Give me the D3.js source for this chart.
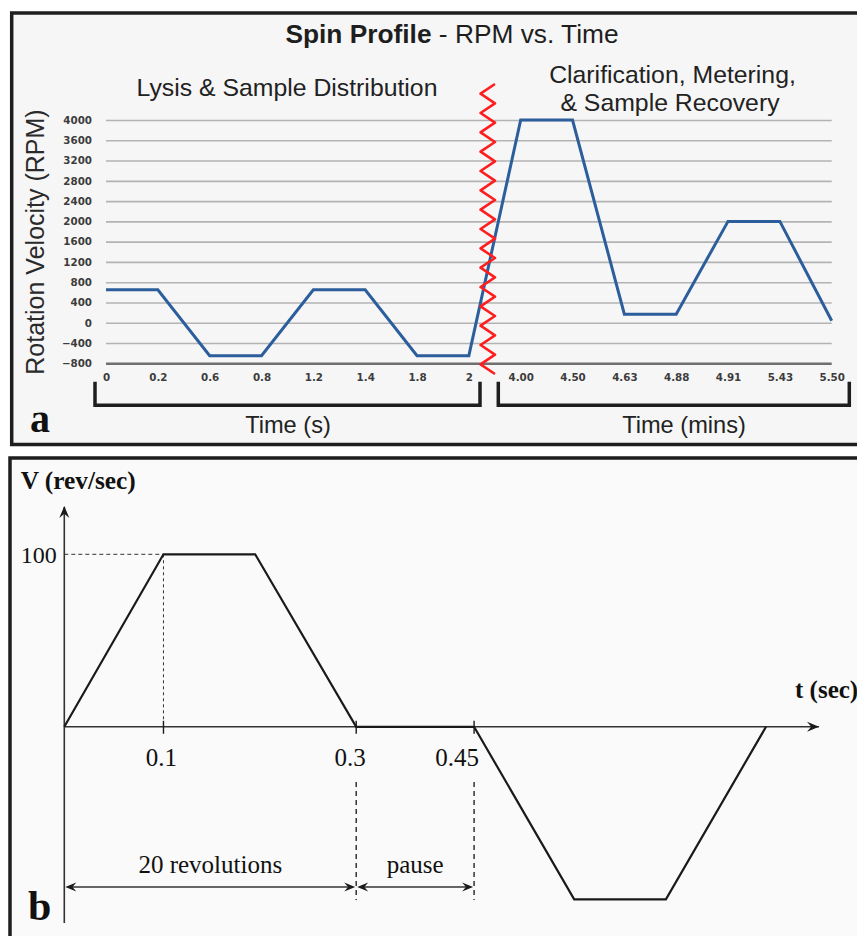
<!DOCTYPE html>
<html><head><meta charset="utf-8">
<script src="https://cdn.jsdelivr.net/npm/d3@7"></script>
<style>body{margin:0;background:#fff}</style>
</head><body>
<svg id="c" width="857" height="936" xmlns="http://www.w3.org/2000/svg"></svg>
<script>
// ---------- Panel a data ----------
const timeLabels = ["0","0.2","0.6","0.8","1.2","1.4","1.8","2","4.00","4.50","4.63","4.88","4.91","5.43","5.50"];
const rpmValues  = [650,650,-650,-650,650,650,-650,-650,4000,4000,170,170,2000,2000,40];
const rpmTicks   = [-800,-400,0,400,800,1200,1600,2000,2400,2800,3200,3600,4000];
const breakAfterIndex = 7; // zigzag between "2" and "4.00"

// ---------- Panel b data ----------
const profileT = [0, 0.106, 0.204, 0.312, 0.438, 0.545, 0.643, 0.75];
const profileV = [0, 100, 100, 0, 0, -100, -100, 0];
const vTickValue = 100;
const tTickKnots  = [1, 3, 4];
const tTickLabels = ["0.1", "0.3", "0.45"];
const spanLabels  = ["20 revolutions", "pause"];

const svg = d3.select("#c");
const SANS = "'Liberation Sans', Arial, Helvetica, sans-serif";
const SERIF = "'Liberation Serif', 'Times New Roman', serif";

// ================= PANEL A =================
svg.append("rect").attr("x", 11.7).attr("y", 13).attr("width", 880).attr("height", 431.5)
  .attr("fill", "#f6f6f6").attr("stroke", "#1e1e1e").attr("stroke-width", 3.5);

const xA = d3.scalePoint().domain(timeLabels).range([106, 831.7]);
const yA = d3.scaleLinear().domain([-800, 4000]).range([363.3, 120]);

const gA = svg.append("g");
const yAxis = d3.axisLeft(yA).tickValues(rpmTicks).tickFormat(d3.format("d"))
  .tickSize(-(831.7 - 106)).tickPadding(14);
const yg = gA.append("g").attr("transform", "translate(106,0)").call(yAxis);
yg.select(".domain").remove();
yg.selectAll(".tick line").attr("stroke", d => d === -800 ? "#6f6f6f" : "#b3b3b3")
  .attr("stroke-width", d => d === -800 ? 2.4 : 1.6);
yg.selectAll(".tick text").attr("font-family", "'DejaVu Sans', sans-serif").attr("font-weight", "bold")
  .attr("font-size", 10.3).attr("fill", "#3c3c3c");

const xAxis = d3.axisBottom(xA).tickSize(0).tickPadding(10.4);
const xg = gA.append("g").attr("transform", "translate(0,363.3)").call(xAxis);
xg.select(".domain").remove();
xg.selectAll(".tick text").attr("font-family", "'DejaVu Sans', sans-serif").attr("font-weight", "bold")
  .attr("font-size", 10.3).attr("fill", "#3c3c3c");

const lineA = d3.line().x((d, i) => xA(timeLabels[i])).y(d => yA(d));
gA.append("path").datum(rpmValues).attr("d", lineA).attr("fill", "none")
  .attr("stroke", "#2c5e9c").attr("stroke-width", 3).attr("stroke-linejoin", "miter");

// red zigzag break
{
  const xMid = (xA(timeLabels[breakAfterIndex]) + xA(timeLabels[breakAfterIndex + 1])) / 2;
  const top = 84, bot = 374, n = 30, amp = 7.2;
  const pts = d3.range(n + 1).map(k => [xMid - 7 + (k % 2 === 0 ? amp : -amp), top + (bot - top) * k / n]);
  svg.append("path").attr("d", d3.line()(pts)).attr("fill", "none")
    .attr("stroke", "#ff1e1e").attr("stroke-width", 2.6).attr("stroke-linejoin", "round");
}

// titles
const title = svg.append("text").attr("x", 452).attr("y", 43).attr("text-anchor", "middle")
  .attr("font-family", SANS).attr("font-size", 26.3).attr("fill", "#1e1e1e");
title.append("tspan").attr("font-weight", "bold").text("Spin Profile");
title.append("tspan").text(" - RPM vs. Time");

svg.append("text").attr("x", 287).attr("y", 96).attr("text-anchor", "middle")
  .attr("font-family", SANS).attr("font-size", 24.8).attr("fill", "#222").text("Lysis & Sample Distribution");
svg.append("text").attr("x", 672.5).attr("y", 83).attr("text-anchor", "middle")
  .attr("font-family", SANS).attr("font-size", 24.8).attr("fill", "#222").text("Clarification, Metering,");
svg.append("text").attr("x", 670).attr("y", 111).attr("text-anchor", "middle")
  .attr("font-family", SANS).attr("font-size", 24.8).attr("fill", "#222").text("& Sample Recovery");

svg.append("text").attr("transform", "translate(43.5,242) rotate(-90)").attr("text-anchor", "middle")
  .attr("font-family", SANS).attr("font-size", 25).attr("fill", "#2a2a2a").text("Rotation Velocity (RPM)");

// brackets
function bracket(x0, x1) {
  svg.append("path").attr("d", `M${x0},381.7 V405.3 H${x1} V381.7`).attr("fill", "none")
    .attr("stroke", "#1e1e1e").attr("stroke-width", 3.5).attr("stroke-linejoin", "miter");
}
bracket(95, 480);
bracket(498.3, 849.3);
svg.append("text").attr("x", 288).attr("y", 432.7).attr("text-anchor", "middle")
  .attr("font-family", SANS).attr("font-size", 23.6).attr("fill", "#222").text("Time (s)");
svg.append("text").attr("x", 684).attr("y", 432.7).attr("text-anchor", "middle")
  .attr("font-family", SANS).attr("font-size", 23.6).attr("fill", "#222").text("Time (mins)");

svg.append("text").attr("x", 30).attr("y", 431.7).attr("font-family", SERIF).attr("font-weight", "bold")
  .attr("font-size", 40).attr("fill", "#111").text("a");

// ================= PANEL B =================
svg.append("rect").attr("x", 10).attr("y", 458).attr("width", 880).attr("height", 520)
  .attr("fill", "#fafafa").attr("stroke", "#1e1e1e").attr("stroke-width", 3.5);

const xB = d3.scaleLinear().domain([0, 0.75]).range([64.3, 766]);
const yB = d3.scaleLinear().domain([-100, 100]).range([899.3, 554.3]);
const gB = svg.append("g");
const ink = "#1a1a1a";

function arrowHead(x, y, angleDeg, len = 12, half = 5) {
  gB.append("path").attr("d", `M0,0 L${-len},${-half} L${-len * 0.65},0 L${-len},${half} Z`)
    .attr("transform", `translate(${x},${y}) rotate(${angleDeg})`).attr("fill", ink);
}

// axes
gB.append("line").attr("x1", xB(0)).attr("x2", 819).attr("y1", yB(0)).attr("y2", yB(0))
  .attr("stroke", "#333").attr("stroke-width", 1.6);
arrowHead(819, yB(0), 0);
gB.append("line").attr("x1", xB(0)).attr("x2", xB(0)).attr("y1", 923).attr("y2", 507)
  .attr("stroke", "#333").attr("stroke-width", 1.6);
arrowHead(xB(0), 506, -90);

svg.append("text").attr("x", 20.7).attr("y", 489).attr("font-family", SERIF).attr("font-weight", "bold")
  .attr("font-size", 25.3).attr("fill", "#111").text("V (rev/sec)");
svg.append("text").attr("x", 795).attr("y", 698).attr("font-family", SERIF).attr("font-weight", "bold")
  .attr("font-size", 25).attr("fill", "#111").text("t (sec)");

// 100 level
gB.append("line").attr("x1", xB(0)).attr("x2", xB(profileT[1])).attr("y1", yB(vTickValue)).attr("y2", yB(vTickValue))
  .attr("stroke", "#333").attr("stroke-width", 1).attr("stroke-dasharray", "4,3");
gB.append("line").attr("x1", xB(profileT[1])).attr("x2", xB(profileT[1])).attr("y1", yB(vTickValue)).attr("y2", yB(0))
  .attr("stroke", "#333").attr("stroke-width", 1).attr("stroke-dasharray", "3,3");
svg.append("text").attr("x", 56.7).attr("y", 563).attr("text-anchor", "end").attr("font-family", SERIF)
  .attr("font-size", 24).attr("fill", "#111").text(String(vTickValue));

// profile
gB.append("path").datum(profileV).attr("d", d3.line().x((d, i) => xB(profileT[i])).y(d => yB(d)))
  .attr("fill", "none").attr("stroke", ink).attr("stroke-width", 2.2).attr("stroke-linejoin", "miter");

// ticks + labels
const labelNudge = [-2, -6, -17];
tTickKnots.forEach((k, j) => {
  const x = xB(profileT[k]);
  gB.append("line").attr("x1", x).attr("x2", x).attr("y1", yB(0) - 6).attr("y2", yB(0) + 7)
    .attr("stroke", ink).attr("stroke-width", 1.4);
  svg.append("text").attr("x", x + labelNudge[j]).attr("y", 766).attr("text-anchor", "middle")
    .attr("font-family", SERIF).attr("font-size", 25).attr("fill", "#111").text(tTickLabels[j]);
});

// dashed guides at 0.3 and 0.45
[3, 4].forEach(k => {
  const x = xB(profileT[k]);
  gB.append("line").attr("x1", x).attr("x2", x).attr("y1", 782).attr("y2", 900)
    .attr("stroke", "#333").attr("stroke-width", 1.5).attr("stroke-dasharray", "5,4");
});

// dimension arrows
function dimArrow(xa, xb, y, label) {
  gB.append("line").attr("x1", xa + 4).attr("x2", xb - 4).attr("y1", y).attr("y2", y)
    .attr("stroke", "#333").attr("stroke-width", 1.4);
  arrowHead(xa + 1, y, 180, 11, 4.5);
  arrowHead(xb - 1, y, 0, 11, 4.5);
  svg.append("text").attr("x", (xa + xb) / 2).attr("y", 873).attr("text-anchor", "middle")
    .attr("font-family", SERIF).attr("font-size", 25).attr("fill", "#111").text(label);
}
dimArrow(xB(profileT[0]), xB(profileT[3]), 887, spanLabels[0]);
dimArrow(xB(profileT[3]), xB(profileT[4]), 887, spanLabels[1]);

svg.append("text").attr("x", 28).attr("y", 920).attr("font-family", SERIF).attr("font-weight", "bold")
  .attr("font-size", 42).attr("fill", "#111").text("b");
</script>
</body></html>
